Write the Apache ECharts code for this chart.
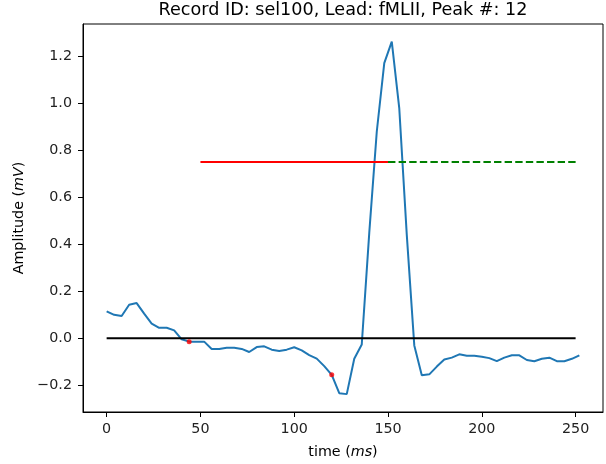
<!DOCTYPE html>
<html>
<head>
<meta charset="utf-8">
<script src="https://cdn.jsdelivr.net/npm/echarts@6/dist/echarts.min.js"></script>
<style>html,body{margin:0;padding:0;background:#fff}#c{width:606px;height:464px}</style>
</head>
<body>
<div id="c"></div>
<script>
const titleText = "Record ID: sel100, Lead: fMLII, Peak #: 12";
const timeMs = [0,4,8,12,16,20,24,28,32,36,40,44,48,52,56,60,64,68,72,76,80,84,88,92,96,100,104,108,112,116,120,124,128,132,136,140,144,148,152,156,160,164,168,172,176,180,184,188,192,196,200,204,208,212,216,220,224,228,232,236,240,244,248,252];
const amplitude = [0.115,0.100,0.095,0.143,0.150,0.105,0.063,0.045,0.045,0.034,-0.004,-0.014,-0.014,-0.014,-0.045,-0.045,-0.040,-0.040,-0.045,-0.058,-0.037,-0.034,-0.048,-0.054,-0.048,-0.038,-0.051,-0.071,-0.086,-0.118,-0.155,-0.233,-0.237,-0.087,-0.026,0.448,0.878,1.170,1.261,0.977,0.440,-0.030,-0.157,-0.153,-0.120,-0.090,-0.082,-0.068,-0.074,-0.074,-0.078,-0.084,-0.097,-0.082,-0.072,-0.072,-0.092,-0.097,-0.087,-0.082,-0.097,-0.097,-0.087,-0.072];
const baselineX = [0, 250];
const baselineY = [0, 0];
const redX = [50, 150];
const redY = [0.75, 0.75];
const greenX = [150, 250];
const greenY = [0.75, 0.75];
const markerX = [44, 120];
const markerY = [-0.014, -0.155];
const xTicks = [0, 50, 100, 150, 200, 250];
const yTicks = [-0.2, 0, 0.2, 0.4, 0.6, 0.8, 1.0, 1.2];

const zip = (a, b) => a.map((v, i) => [v, b[i]]);
const font = 'DejaVu Sans';
const fs = 14.3;
const chart = echarts.init(document.getElementById('c'), null, {renderer: 'canvas'});
chart.setOption({
  animation: false,
  backgroundColor: '#fff',
  textStyle: {fontFamily: font},
  title: {
    text: titleText, left: 343, top: 1, padding: 0, textAlign: 'center',
    textStyle: {fontFamily: font, fontSize: 17.6, fontWeight: 'normal', color: '#000'}
  },
  grid: {left: 83, top: 24, width: 520, height: 388, show: true, borderColor: '#000', borderWidth: 1, containLabel: false},
  xAxis: {
    type: 'value', min: -12.6, max: 264.6,
    name: '{n|time (}{i|ms}{n|)}', nameLocation: 'middle', nameGap: 33,
    nameTextStyle: {rich: {n: {fontFamily: font, fontSize: fs, color: '#000'}, i: {fontFamily: font, fontSize: fs, fontStyle: 'italic', color: '#000'}}},
    axisLine: {show: true, onZero: false, lineStyle: {color: '#000', width: 1}},
    axisTick: {show: true, length: 5, customValues: xTicks, lineStyle: {color: '#000'}},
    axisLabel: {customValues: xTicks, fontFamily: font, fontSize: fs, color: '#222', margin: 10, formatter: v => String(v)},
    splitLine: {show: false}
  },
  yAxis: {
    type: 'value', min: -0.313, max: 1.336,
    name: '{n|Amplitude (}{i|mV}{n|)}', nameLocation: 'middle', nameGap: 53, nameRotate: 90,
    nameTextStyle: {rich: {n: {fontFamily: font, fontSize: fs, color: '#000'}, i: {fontFamily: font, fontSize: fs, fontStyle: 'italic', color: '#000'}}},
    axisLine: {show: true, onZero: false, lineStyle: {color: '#000', width: 1}},
    axisTick: {show: true, length: 5, customValues: yTicks, lineStyle: {color: '#000'}},
    axisLabel: {customValues: yTicks, fontFamily: font, fontSize: fs, color: '#222', margin: 11,
      formatter: v => (v < 0 ? '\u2212' : '') + Math.abs(v).toFixed(1)},
    splitLine: {show: false}
  },
  series: [
    {type: 'line', data: zip(timeMs, amplitude), showSymbol: false, symbol: 'none', lineStyle: {color: '#1f77b4', width: 2}, z: 2},
    {type: 'line', data: zip(baselineX, baselineY), showSymbol: false, symbol: 'none', lineStyle: {color: '#000', width: 2}, z: 3},
    {type: 'line', data: zip(redX, redY), showSymbol: false, symbol: 'none', lineStyle: {color: '#ff0000', width: 2}, z: 3},
    {type: 'line', data: zip(greenX, greenY), showSymbol: false, symbol: 'none', lineStyle: {color: '#008000', width: 2, type: [7.4, 3.2]}, z: 3},
    {type: 'scatter', data: zip(markerX, markerY), symbol: 'circle', symbolSize: 5, itemStyle: {color: '#ff0000'}, z: 4}
  ]
});
</script>
</body>
</html>
